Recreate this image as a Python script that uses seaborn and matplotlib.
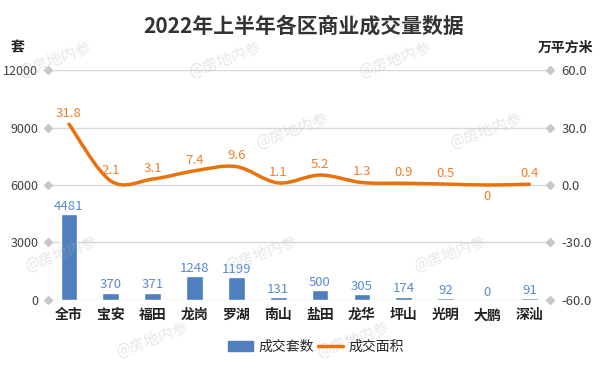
import numpy as np
import pandas as pd
import matplotlib
matplotlib.use("Agg")
import matplotlib.pyplot as plt
from matplotlib.path import Path
from matplotlib.patches import PathPatch, Patch
from matplotlib.lines import Line2D
import seaborn as sns

# data
districts = ["全市", "宝安", "福田", "龙岗", "罗湖", "南山", "盐田", "龙华", "坪山", "光明", "大鹏", "深汕"]
units = [4481, 370, 371, 1248, 1199, 131, 500, 305, 174, 92, 0, 91]
area = [31.8, 2.1, 3.1, 7.4, 9.6, 1.1, 5.2, 1.3, 0.9, 0.5, 0, 0.4]
left_ticks = [0, 3000, 6000, 9000, 12000]
right_ticks = [-60, -30, 0, 30, 60]

df = pd.DataFrame({"区": districts, "成交套数": units, "成交面积": area})

sns.set_theme(style="white")
plt.rcParams["font.family"] = ["Noto Sans CJK SC", "DejaVu Sans"]
plt.rcParams["axes.unicode_minus"] = False

bar_color = "#4f7fbf"
line_color = "#e8720c"
grid_color = "#d9d9d9"

fig = plt.figure(figsize=(6.08, 3.73), dpi=100)
ax = fig.add_axes([0.079, 0.196, 0.826, 0.616])

sns.barplot(data=df, x="区", y="成交套数", color=bar_color, width=0.4,
            saturation=1, ax=ax, zorder=2)
ax.set_ylim(0, 12000)
ax.set_yticks(left_ticks)
ax.set_xlim(-0.5, len(districts) - 0.5)
for t in left_ticks:
    ax.axhline(t, color=grid_color, lw=1, zorder=0)
ax.bar_label(ax.containers[0], labels=[str(v) for v in units], padding=1,
             color="#5a8ad0", fontsize=9.5)

ax.set_xlabel("")
ax.set_ylabel("")
ax.tick_params(axis="y", length=0, labelsize=9, labelcolor="#404040", pad=7)
ax.tick_params(axis="x", length=0, labelsize=10, pad=6)
for lbl in ax.get_xticklabels():
    lbl.set_fontweight("bold")
    lbl.set_color("#222222")
for s in ax.spines.values():
    s.set_visible(False)

# diamond markers at gridline ends
ax.plot([0] * len(left_ticks), left_ticks, marker="D", ms=4, ls="none", color="#c8c8c8",
        transform=ax.get_yaxis_transform(), clip_on=False, zorder=3)
ax.plot([1] * len(left_ticks), left_ticks, marker="D", ms=4, ls="none", color="#c8c8c8",
        transform=ax.get_yaxis_transform(), clip_on=False, zorder=3)

ax2 = ax.twinx()
ax2.set_ylim(-60, 60)
ax2.set_yticks(right_ticks)
ax2.set_yticklabels([f"{t:.1f}" for t in right_ticks])
ax2.tick_params(axis="y", length=0, labelsize=9.5, labelcolor="#404040", pad=8)
for s in ax2.spines.values():
    s.set_visible(False)
ax2.grid(False)

# smoothed line (Catmull-Rom style bezier through the data points)
xs = np.arange(len(area), dtype=float)
ys = np.array(area, dtype=float)
verts = [(xs[0], ys[0])]
codes = [Path.MOVETO]
n = len(xs)
for i in range(n - 1):
    p0 = (xs[max(i - 1, 0)], ys[max(i - 1, 0)])
    p1 = (xs[i], ys[i])
    p2 = (xs[i + 1], ys[i + 1])
    p3 = (xs[min(i + 2, n - 1)], ys[min(i + 2, n - 1)])
    c1 = (p1[0] + (p2[0] - p0[0]) / 6, p1[1] + (p2[1] - p0[1]) / 6)
    c2 = (p2[0] - (p3[0] - p1[0]) / 6, p2[1] - (p3[1] - p1[1]) / 6)
    verts += [c1, c2, p2]
    codes += [Path.CURVE4] * 3
ax2.add_patch(PathPatch(Path(verts, codes), fill=False, edgecolor=line_color,
                        lw=2.5, capstyle="round", zorder=4))

for x, v in zip(xs, area):
    label = "0" if v == 0 else f"{v:.1f}"
    off = -13 if v == 0 else 3
    ax2.annotate(label, (x, v), xytext=(0, off), textcoords="offset points",
                 ha="center", va="bottom", color="#f07f2a", fontsize=9.5)

fig.text(0.5, 0.93, "2022年上半年各区商业成交量数据", ha="center", va="center",
         fontsize=15, fontweight="bold", color="#333333")
fig.text(0.018, 0.873, "套", ha="left", va="center", fontsize=10, fontweight="bold", color="#222222")
fig.text(0.975, 0.873, "万平方米", ha="right", va="center", fontsize=10, fontweight="bold", color="#222222")

handles = [Patch(color=bar_color, label="成交套数"),
           Line2D([0], [0], color=line_color, lw=2.5, label="成交面积")]
fig.legend(handles=handles, loc="center", bbox_to_anchor=(0.52, 0.07), ncol=2,
           frameon=False, fontsize=10, handlelength=1.8, columnspacing=0.3,
           handletextpad=0.4)

# watermarks
marks = [(0.09, 0.84), (0.37, 0.84), (0.65, 0.84), (0.48, 0.65), (0.8, 0.65),
         (0.1, 0.32), (0.43, 0.32), (0.74, 0.32), (0.25, 0.09), (0.58, 0.09)]
for mx, my in marks:
    fig.text(mx, my, "@房地内参", fontsize=11, color="#b0b0b0", alpha=0.3,
             rotation=20, ha="center", va="center")

fig.savefig("out.png", dpi=100)
